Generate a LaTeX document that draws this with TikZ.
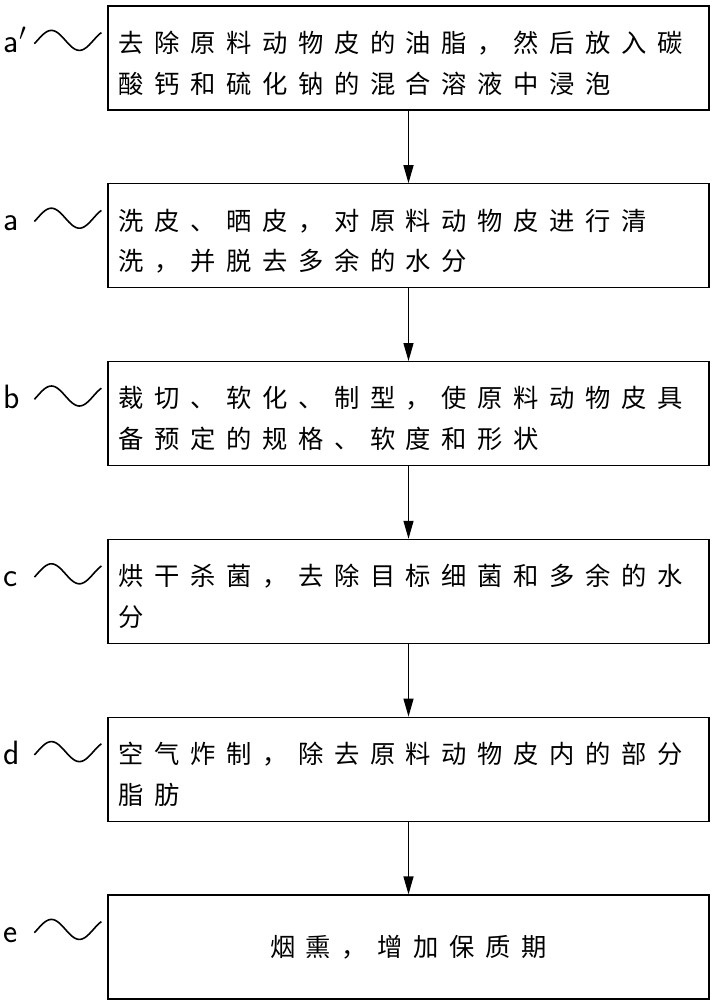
\documentclass[tikz,border=0pt]{standalone}
\usepackage{fontspec}
\usepackage{tikz}
\usetikzlibrary{arrows.meta,positioning}
\newfontfamily\cjkfont[LetterSpace=42]{Noto Sans CJK SC}
\newcommand\steptext[1]{\parbox[c][1.35cm][t]{14.5cm}{#1}}

\tikzset{
  stepbox/.style={draw,rectangle,minimum width=15.025cm,minimum height=2.6cm,
    inner xsep=0.25cm,font=\cjkfont\fontsize{18}{29}\selectfont},
  steplabel/.style={inner sep=0pt,anchor=base west,font=\fontsize{24}{24}\selectfont\sffamily},
  stepwave/.style={-,line width=0.4mm},
}

\begin{document}
\begin{tikzpicture}[->,>={Triangle[length=0.45cm,width=0.25cm]},node distance=1.815cm,line width=0.3mm]
  \useasboundingbox (0,0) rectangle (17.875,-25);

  \node[stepbox] (A) at (10.2125,-1.45) {\steptext{去除原料动物皮的油脂，然后放入碳\\酸钙和硫化钠的混合溶液中浸泡}};
  \node[stepbox] (B) [below=of A] {\steptext{洗皮、晒皮，对原料动物皮进行清\\洗，并脱去多余的水分}};
  \node[stepbox] (C) [below=of B] {\steptext{裁切、软化、制型，使原料动物皮具\\备预定的规格、软度和形状}};
  \node[stepbox] (D) [below=of C] {\steptext{烘干杀菌，去除目标细菌和多余的水\\分}};
  \node[stepbox] (E) [below=of D] {\steptext{空气炸制，除去原料动物皮内的部分\\脂肪}};
  \node[stepbox] (F) [below=of E] {烟熏，增加保质期};

  \path (A) edge (B)
        (B) edge (C)
        (C) edge (D)
        (D) edge (E)
        (E) edge (F);

  % step letters and wavy leaders
  \foreach \n/\l in {A/a$'$,B/a,C/b,D/c,E/d,F/e}{
    \node[steplabel] (l\n) at ([xshift=-2.6cm,yshift=-1.19cm]\n.north west) {\l};
    \draw[stepwave,shift={(\n.north west)},xshift=-1.825cm,yshift=-0.875cm]
      plot[domain=0:1.675,smooth,samples=40] (\x,{0.25*cos((\x-0.425)*257.14)});
  }
\end{tikzpicture}
\end{document}
